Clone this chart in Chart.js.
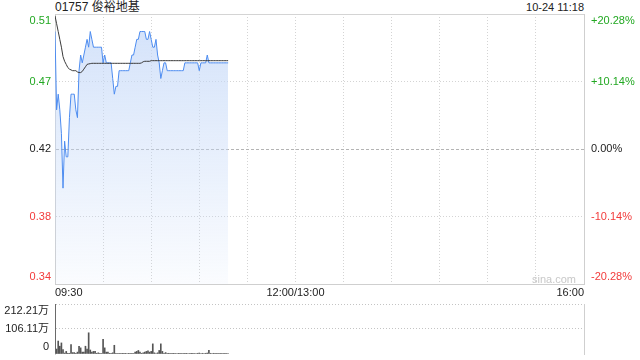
<!DOCTYPE html>
<html>
<head>
<meta charset="utf-8">
<script src="https://cdn.jsdelivr.net/npm/chart.js@4.4.1/dist/chart.umd.min.js"></script>
<style>
  body { margin: 0; background: #fff; width: 640px; height: 360px; position: relative; overflow: hidden;
         font-family: "Liberation Sans", "Noto Sans CJK SC", sans-serif; }
  #priceBox { position: absolute; left: 0; top: 0; width: 640px; height: 300px; }
  #volBox { position: absolute; left: 0; top: 290px; width: 640px; height: 70px; }
  .txt { position: absolute; font-size: 12px; line-height: 14px; color: #222; white-space: nowrap; }
</style>
</head>
<body>
<div class="txt" style="left:55px;top:0px;">01757 俊裕地基</div>
<div class="txt" style="right:56px;top:0px;font-size:11px;">10-24 11:18</div>
<div id="priceBox"><canvas id="priceChart" width="640" height="300"></canvas></div>
<div id="volBox"><canvas id="volChart" width="640" height="70"></canvas></div>
<div class="txt" style="left:532px;top:272px;font-size:11px;color:#c8c8c8;">sina.com</div>
<script>
// minute-by-minute data, 09:30 -> 11:18
const prevClose = 0.425;
const prices = [
  0.50, 0.45, 0.46, 0.45, 0.435, 0.40, 0.43, 0.42, 0.42, 0.445,
  0.46, 0.46, 0.46, 0.45, 0.445, 0.475, 0.485, 0.48, 0.485, 0.49,
  0.495, 0.49, 0.50, 0.495, 0.49, 0.49, 0.49, 0.49, 0.49, 0.49,
  0.48, 0.485, 0.48, 0.48, 0.48, 0.48, 0.47, 0.46, 0.465, 0.465,
  0.475, 0.475, 0.475, 0.475, 0.475, 0.475, 0.475, 0.48, 0.485, 0.485,
  0.49, 0.495, 0.495, 0.50, 0.50, 0.50, 0.50, 0.495, 0.495, 0.50,
  0.495, 0.49, 0.49, 0.495, 0.485, 0.48, 0.47, 0.475, 0.48, 0.48,
  0.475, 0.475, 0.475, 0.475, 0.475, 0.475, 0.475, 0.475, 0.475, 0.475,
  0.475, 0.48, 0.48, 0.48, 0.48, 0.48, 0.48, 0.48, 0.48, 0.48,
  0.475, 0.48, 0.48, 0.48, 0.48, 0.485, 0.48, 0.48, 0.48, 0.48,
  0.48, 0.48, 0.48, 0.48, 0.48, 0.48, 0.48, 0.48, 0.48
];
const avgPrices = [
  0.510, 0.505, 0.500, 0.495, 0.490, 0.484, 0.481, 0.479, 0.477, 0.476,
  0.4755, 0.475, 0.475, 0.475, 0.4742, 0.4738, 0.4738, 0.4745, 0.476, 0.4775,
  0.479, 0.4793, 0.4795, 0.4797, 0.4797, 0.4797, 0.4797, 0.4797, 0.4797, 0.4797,
  0.4797, 0.4797, 0.4797, 0.4797, 0.4797, 0.4797, 0.4797, 0.4797, 0.4797, 0.4797,
  0.4797, 0.4797, 0.4797, 0.4797, 0.4797, 0.4797, 0.4797, 0.4797, 0.4797, 0.4797,
  0.4797, 0.4797, 0.4797, 0.4797, 0.480, 0.4807, 0.481, 0.481, 0.481, 0.481,
  0.4814, 0.4814, 0.4814, 0.4814, 0.4814, 0.4814, 0.4814, 0.4814, 0.4814, 0.4814,
  0.4814, 0.4814, 0.4814, 0.4814, 0.4814, 0.4814, 0.4814, 0.4814, 0.4814, 0.4814,
  0.4814, 0.4814, 0.4814, 0.4814, 0.4814, 0.4814, 0.4814, 0.4814, 0.4814, 0.4814,
  0.4814, 0.4814, 0.4814, 0.4814, 0.4814, 0.4814, 0.4814, 0.4814, 0.4814, 0.4814,
  0.4814, 0.4814, 0.4814, 0.4814, 0.4814, 0.4814, 0.4814, 0.4814, 0.4814
];
// volume in 万 shares
const volumes = [
  212.21, 21, 55, 33, 47, 19, 4, 11, 3, 3,
  40, 6, 6, 3, 8, 33, 26, 8, 8, 33,
  21, 90, 17, 8, 11, 11, 3, 5, 1, 2,
  62, 26, 8, 8, 3, 1, 5, 37, 3, 2,
  1, 2, 1, 3, 1, 2, 1, 2, 1, 2,
  8, 11, 15, 8, 3, 5, 8, 11, 13, 8,
  11, 43, 5, 2, 5, 15, 43, 11, 3, 6,
  2, 3, 2, 3, 1, 2, 2, 1, 3, 2,
  2, 3, 1, 2, 2, 1, 3, 2, 2, 3,
  4, 2, 3, 2, 3, 4, 16, 3, 2, 3,
  2, 1, 2, 3, 2, 2, 1, 2, 2
];

const pctLevels = [-20.28, -10.14, 0, 10.14, 20.28];
const priceTickLabels = ['0.34', '0.38', '0.42', '0.47', '0.51'];
const pctTickLabels = ['-20.28%', '-10.14%', '0.00%', '+10.14%', '+20.28%'];
const timeTicks = [0, 150, 330];
const timeTickLabels = ['09:30', '12:00/13:00', '16:00'];
const volTicks = [0, 106.11, 212.21];
const volTickLabels = ['0', '106.11万', '212.21万'];

const UP = '#22a822', DOWN = '#f23b3b', FLAT = '#222';
const levelColor = i => i > 2 ? UP : (i < 2 ? DOWN : FLAT);
// push the outer labels inside the plot edge (extra empty line)
const edgeLabel = (txt, i, n) => i === 0 ? [txt, ''] : (i === n - 1 ? ['', txt] : txt);

Chart.defaults.font.family = '"Liberation Sans", "Noto Sans CJK SC", sans-serif';
Chart.defaults.font.size = 11;
Chart.defaults.color = '#222';

const pricePts = prices.map((v, i) => ({ x: i, y: v }));
const avgPts = avgPrices.map((v, i) => ({ x: i, y: v }));
const volPts = volumes.map((v, i) => ({ x: i, y: v }));

new Chart(document.getElementById('priceChart'), {
  type: 'line',
  data: {
    datasets: [
      { data: avgPts, borderColor: '#3a3a3a', borderWidth: 1, pointRadius: 0, fill: false, yAxisID: 'y' },
      {
        data: pricePts, borderColor: '#4d8cf0', borderWidth: 1, pointRadius: 0, fill: 'start', yAxisID: 'y',
        backgroundColor: ctx => {
          const a = ctx.chart.chartArea;
          if (!a) return 'rgba(0,0,0,0)';
          const g = ctx.chart.ctx.createLinearGradient(0, a.top, 0, a.bottom);
          g.addColorStop(0, 'rgba(196,216,248,0.75)');
          g.addColorStop(1, 'rgba(196,216,248,0.08)');
          return g;
        }
      }
    ]
  },
  options: {
    responsive: false,
    animation: false,
    layout: { padding: { top: 14, left: 0, right: 0, bottom: 0 } },
    plugins: { legend: { display: false }, tooltip: { enabled: false } },
    scales: {
      x: {
        type: 'linear', min: 0, max: 330, offset: false,
        ticks: {
          stepSize: 30, autoSkip: false, maxRotation: 0, align: 'inner', padding: 2,
          callback: v => { const k = timeTicks.indexOf(v); return k >= 0 ? timeTickLabels[k] : ''; }
        },
        afterFit: s => { s.height = 16; s.paddingLeft = 0; s.paddingRight = 0; },
        grid: { drawTicks: false, color: '#d4d4d4' },
        border: { color: '#cfcfcf', dash: c => (c.index === 0 || c.index === 11) ? [] : [1, 2] }
      },
      y: {
        position: 'left',
        min: prevClose * (1 + pctLevels[0] / 100), max: prevClose * (1 + pctLevels[4] / 100),
        afterBuildTicks: s => { s.ticks = pctLevels.map(p => ({ value: prevClose * (1 + p / 100) })); },
        afterFit: s => { s.width = 55; s.paddingTop = 0; s.paddingBottom = 0; },
        ticks: {
          padding: 4, autoSkip: false,
          color: c => levelColor(c.index),
          callback: (v, i) => edgeLabel(priceTickLabels[i], i, priceTickLabels.length)
        },
        grid: { drawTicks: false, color: c => c.index === 2 ? '#b4b4b4' : '#d4d4d4' },
        border: { color: '#cfcfcf', dash: c => c.index === 2 ? [3, 2] : (c.index === 4 ? [] : [1, 2]) }
      },
      yp: {
        position: 'right', min: pctLevels[0], max: pctLevels[4],
        afterBuildTicks: s => { s.ticks = pctLevels.map(p => ({ value: p })); },
        afterFit: s => { s.width = 56; s.paddingTop = 0; s.paddingBottom = 0; },
        ticks: {
          padding: 7, autoSkip: false,
          color: c => levelColor(c.index),
          callback: (v, i) => edgeLabel(pctTickLabels[i], i, pctTickLabels.length)
        },
        grid: { display: false, drawTicks: false },
        border: { color: '#cfcfcf' }
      }
    }
  }
});

new Chart(document.getElementById('volChart'), {
  type: 'bar',
  data: {
    datasets: [{ data: volPts, backgroundColor: '#555', borderWidth: 0, barThickness: 1, yAxisID: 'y' }]
  },
  options: {
    responsive: false,
    animation: false,
    layout: { padding: { top: 14, left: 0, right: 0, bottom: 6 } },
    plugins: { legend: { display: false }, tooltip: { enabled: false } },
    scales: {
      x: { type: 'linear', min: 0, max: 330, offset: false, display: false },
      y: {
        position: 'left', min: 0, max: volTicks[2],
        afterBuildTicks: s => { s.ticks = volTicks.map(v => ({ value: v })); },
        afterFit: s => { s.width = 55; s.paddingTop = 0; s.paddingBottom = 0; },
        ticks: { padding: 6, autoSkip: false, callback: (v, i) => edgeLabel(volTickLabels[i], i, volTickLabels.length) },
        grid: { drawTicks: false, color: c => c.index === 0 ? 'rgba(0,0,0,0)' : '#c4c4c4' },
        border: { color: '#cfcfcf', dash: [1, 2] }
      },
      yr: {
        position: 'right', min: 0, max: 1,
        afterFit: s => { s.width = 56; },
        ticks: { display: false },
        grid: { display: false, drawTicks: false },
        border: { color: '#cfcfcf' }
      }
    }
  }
});
</script>
</body>
</html>
